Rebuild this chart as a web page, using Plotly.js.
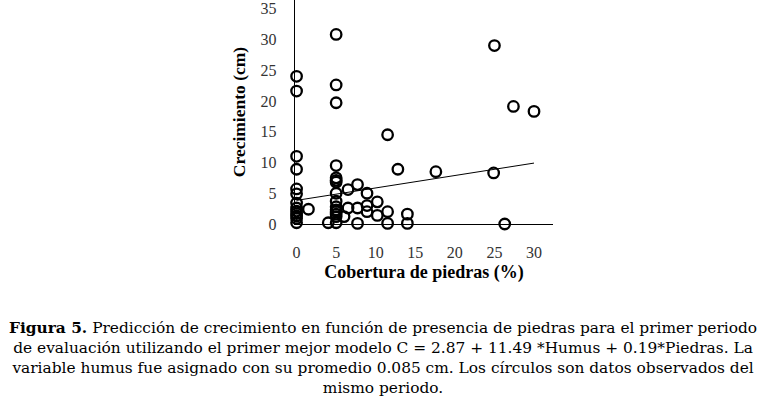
<!DOCTYPE html>
<html>
<head>
<meta charset="utf-8">
<script src="https://cdn.plot.ly/plotly-3.0.1.min.js"></script>
<style>
html,body{margin:0;padding:0;background:#fff;}
#chart{width:765px;height:406px;}
</style>
</head>
<body>
<div id="chart"></div>
<script>
// Observed data (Cobertura de piedras %, Crecimiento cm)
const obsX = [0, 0, 5, 5, 5, 25, 27.4, 30, 11.5, 0, 0, 5, 12.8, 17.6, 24.9, 26.3,
  0, 0, 0, 0, 0, 0, 0, 0, 0, 1.5,
  5, 5, 5, 5, 5, 5, 5, 5, 5, 5, 5,
  4.0, 6.0, 6.5, 6.5, 7.7, 7.7, 7.7, 8.9, 8.9, 8.9, 10.2, 10.2, 11.5, 11.5, 14, 14];
const obsY = [24.0, 21.6, 30.8, 22.6, 19.7, 29.0, 19.1, 18.3, 14.5, 11.0, 8.9, 9.5, 8.9, 8.5, 8.3, 0,
  5.7, 4.9, 3.4, 2.6, 2.1, 1.7, 0.9, 0.2, 1.3, 2.4,
  7.5, 7.1, 6.8, 5.0, 3.7, 2.8, 2.3, 2.0, 1.6, 1.2, 0.2,
  0.2, 1.2, 5.6, 2.6, 6.4, 2.6, 0.1, 5.0, 3.0, 2.0, 3.6, 1.4, 2.0, 0.1, 1.6, 0.1];
// Predicted line endpoints
const lineX = [0, 30];
const lineY = [3.84, 9.9];
const xTicks = [0, 5, 10, 15, 20, 25, 30];
const yTicks = [0, 5, 10, 15, 20, 25, 30, 35];

const serif = "'Liberation Serif', 'DejaVu Serif', serif";
const capFont = "'DejaVu Serif', 'Liberation Serif', serif";

const traces = [
  {x: lineX, y: lineY, type: 'scatter', mode: 'lines', cliponaxis: false,
   line: {color: '#000', width: 1}, hoverinfo: 'skip'},
  {x: obsX, y: obsY, type: 'scatter', mode: 'markers', cliponaxis: false,
   marker: {symbol: 'circle-open', size: 10.5, color: '#000', line: {width: 2.3, color: '#000'}}}
];

const layout = {
  width: 765, height: 406,
  margin: {l: 295, r: 212, t: 0, b: 182},
  paper_bgcolor: '#fff', plot_bgcolor: '#fff',
  showlegend: false,
  font: {family: serif, color: '#000', size: 15},
  xaxis: {
    range: [-0.2, 32.4], tickvals: xTicks, ticktext: xTicks.map(String),
    showgrid: false, zeroline: false, showline: true, linecolor: '#000', linewidth: 1.3,
    ticks: '', ticklen: 0, ticklabelstandoff: 13, tickfont: {family: serif, size: 16, color: '#333'},
    title: {text: '<b>Cobertura de piedras (%)</b>', font: {family: serif, size: 18, color: '#000'}, standoff: 6}
  },
  yaxis: {
    range: [0, 36.4], tickvals: yTicks, ticktext: yTicks.map(String),
    showgrid: false, zeroline: false, showline: true, linecolor: '#000', linewidth: 1.3,
    ticks: '', ticklen: 0, ticklabelstandoff: 14, tickfont: {family: serif, size: 16, color: '#333'},
    title: {text: '<b>Crecimiento (cm)</b>', font: {family: serif, size: 17.5, color: '#000'}, standoff: 10}
  },
  annotations: [{
    xref: 'paper', yref: 'paper', x: 0.5, y: -0.413, xanchor: 'center', yanchor: 'top',
    xshift: -41,
    showarrow: false, align: 'center',
    font: {family: capFont, size: 15.4, color: '#000'},
    text: '<b>Figura 5.</b> Predicción de crecimiento en función de presencia de piedras para el primer periodo<br>' +
          'de evaluación utilizando el primer mejor modelo C = 2.87 + 11.49 *Humus + 0.19*Piedras. La<br>' +
          'variable humus fue asignado con su promedio 0.085 cm. Los círculos son datos observados del<br>' +
          'mismo periodo.'
  }]
};

Plotly.newPlot('chart', traces, layout, {staticPlot: true, displayModeBar: false});
</script>
</body>
</html>
